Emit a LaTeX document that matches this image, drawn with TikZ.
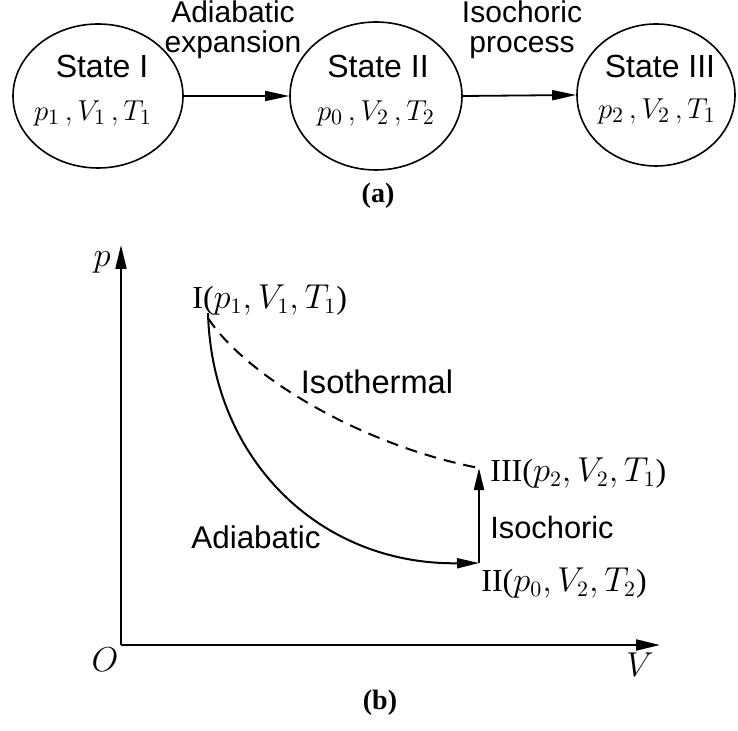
\documentclass[tikz,border=0pt]{standalone}
\usepackage{fontspec}
\setmainfont{Liberation Serif}
\setsansfont{Liberation Sans}
\usetikzlibrary{arrows.meta,shapes.geometric}
\tikzset{
  statebox/.style={draw, line width=0.8pt, ellipse, inner sep=0pt},
  sanslbl/.style={font=\sffamily\fontsize{16}{12.5}\selectfont, inner sep=0pt, align=center},
  toplbl/.style={font=\sffamily\fontsize{15}{15}\selectfont, inner sep=0pt, anchor=base},
  mathlbl/.style={font=\fontsize{16}{16}\selectfont, inner sep=0pt},
  caplbl/.style={font=\bfseries\fontsize{14}{14}\selectfont, inner sep=0pt},
  flow/.style={line width=0.9pt, -{Triangle[length=12pt,width=5pt]}},
  axis/.style={line width=1pt, -{Triangle[length=12pt,width=5.5pt]}},
  proc/.style={line width=1pt, -{Triangle[length=11pt,width=5pt]}},
  iso/.style={line width=1pt, dash pattern=on 6pt off 4pt},
}
\begin{document}
\begin{tikzpicture}[x=0.5pt,y=-0.5pt]
\useasboundingbox (0,0) rectangle (738,731);
% (a)
\node[statebox, minimum width=85pt, minimum height=72pt] (s1) at (98,96) {};
\node[statebox, minimum width=86pt, minimum height=74pt] (s2) at (376,96) {};
\node[statebox, minimum width=79pt, minimum height=71pt] (s3) at (656,95) {};
\node[sanslbl] (t1) at (102,66) {State I};
\node[mathlbl, font=\fontsize{15.5}{15.5}\selectfont] (m1) at (93,113) {$p_1\,,V_1\,,T_1$};
\node[sanslbl] (t2) at (378,66) {State II};
\node[mathlbl, font=\fontsize{15.5}{15.5}\selectfont] (m2) at (376,113) {$p_0\,,V_2\,,T_2$};
\node[sanslbl] (t3) at (660,66) {State III};
\node[mathlbl, font=\fontsize{15.5}{15.5}\selectfont] (m3) at (657,111) {$p_2\,,V_2\,,T_1$};
\draw[flow] (s1.east) -- (s2.west);
\draw[flow] (s2.east) -- (s3.west);
\node[toplbl] (l1a) at (233,23) {Adiabatic};
\node[toplbl] (l1b) at (233,53) {expansion};
\node[toplbl] (l2a) at (522,23) {Isochoric};
\node[toplbl] (l2b) at (522,53) {process};
\node[caplbl] (ca) at (378,196) {(a)};
% (b)
\coordinate (O) at (121,645);
\coordinate (ptop) at (121,245);
\coordinate (vend) at (660,645);
\draw[axis] (O) -- (ptop);
\draw[axis] (O) -- (vend);
\node[mathlbl] (plbl) at (102,262) {$p$};
\node[mathlbl] (olbl) at (105,660) {$O$};
\node[mathlbl] (vlbl) at (640,665) {$V$};
\coordinate (A) at (208,313);
\coordinate (B) at (479,563);
\coordinate (C) at (479,468);
\draw[proc] (A) .. controls (212,460) and (320,565) .. (B);
\draw[proc] (B) -- (C);
\draw[iso] (208,318) .. controls (245,375) and (360,445) .. (C);
\node[mathlbl, anchor=west] (n1) at (192,300) {I($p_1, V_1, T_1$)};
\node[mathlbl, anchor=west] (n3) at (490,473) {III($p_2, V_2, T_1$)};
\node[mathlbl, anchor=west] (n2) at (481,583) {II($p_0, V_2, T_2$)};
\node[sanslbl, font=\sffamily\fontsize{16.3}{16}\selectfont] (iso) at (377,382) {Isothermal};
\node[sanslbl, font=\sffamily\fontsize{15.7}{16}\selectfont] (adi) at (256,537) {Adiabatic};
\node[sanslbl, font=\sffamily\fontsize{15.4}{16}\selectfont, anchor=west] (isc) at (490,527) {Isochoric};
\node[caplbl] (cb) at (380,703) {(b)};
\end{tikzpicture}
\end{document}
